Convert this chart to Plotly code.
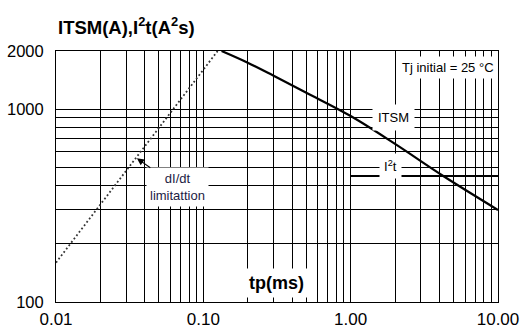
import plotly.graph_objects as go
import math

# ---- data ----
itsm_t = [0.133, 0.2, 0.3, 0.5, 1.0, 2.0, 4.25, 10.0]
itsm_a = [2000, 1740, 1488, 1215, 920, 660, 450, 300]

i2t_t = [1.0, 10.0]
i2t_v = [450, 450]

didt_t = [0.01, 0.125]
didt_a = [160, 2000]

x_grid = [0.01, 0.02, 0.03, 0.04, 0.05, 0.06, 0.07, 0.08, 0.09,
          0.1, 0.2, 0.3, 0.4, 0.5, 0.6, 0.7, 0.8, 0.9,
          1, 2, 3, 4, 5, 6, 7, 8, 9, 10]
x_labels = {0.01: "0.01", 0.1: "0.10", 1: "1.00", 10: "10.00"}
y_grid = [100, 200, 300, 400, 500, 600, 700, 800, 900, 1000, 2000]
y_labels = {100: "100", 1000: "1000", 2000: "2000"}

FONT = "Liberation Sans, Arial, sans-serif"

fig = go.Figure()
fig.add_trace(go.Scatter(x=didt_t, y=didt_a, mode="lines",
                         line=dict(color="#333333", width=1.8, dash="1.8px,2.4px"),
                         hoverinfo="skip"))
fig.add_trace(go.Scatter(x=itsm_t, y=itsm_a, mode="lines",
                         line=dict(color="black", width=2.2, shape="spline", smoothing=1.0),
                         hoverinfo="skip"))
fig.add_trace(go.Scatter(x=i2t_t, y=i2t_v, mode="lines",
                         line=dict(color="black", width=2.2), hoverinfo="skip"))

lg = math.log10
ann = [
    dict(x=lg(1.95), y=lg(900), text="ITSM", showarrow=False,
         font=dict(size=13), bgcolor="white", borderpad=5),
    dict(x=lg(1.85), y=lg(505), text="I<sup>2</sup>t", showarrow=False,
         font=dict(size=13), bgcolor="white", borderpad=4),
    dict(x=1, y=lg(1650), xref="paper", xanchor="right", text="Tj initial = 25 °C",
         showarrow=False, font=dict(size=13), bgcolor="white", borderpad=3),
    dict(x=lg(0.0354), y=lg(556), ax=41, ay=29, text="dI/dt<br>limitattion",
         showarrow=True, arrowhead=2, arrowsize=1.3, arrowwidth=1.1,
         arrowcolor="black", font=dict(size=13, color="#1c1c44"),
         bgcolor="white", borderpad=3),
    dict(x=lg(0.316), y=lg(125), text="<b>tp(ms)</b>", showarrow=False,
         font=dict(size=18), bgcolor="white", borderpad=4),
    dict(x=0, y=1, xref="paper", yref="paper", xanchor="left", yanchor="bottom",
         yshift=11, text="<b>ITSM(A),I<sup>2</sup>t(A<sup>2</sup>s)</b>",
         showarrow=False, font=dict(size=18.5)),
]

fig.update_layout(
    width=526, height=329,
    margin=dict(l=56, r=28, t=51, b=27, autoexpand=False),
    paper_bgcolor="white", plot_bgcolor="white",
    showlegend=False,
    font=dict(family=FONT, color="black"),
    annotations=ann,
    xaxis=dict(type="log", range=[-2, 1], tickvals=x_grid,
               ticktext=[x_labels.get(v, "") for v in x_grid],
               showgrid=True, gridcolor="black", gridwidth=1,
               showline=True, linecolor="black", linewidth=1, mirror=True,
               ticks="", tickfont=dict(size=17), ticklabelstandoff=2,
               zeroline=False, automargin=False),
    yaxis=dict(type="log", range=[2, lg(2000)], tickvals=y_grid,
               ticktext=[y_labels.get(v, "") for v in y_grid],
               showgrid=True, gridcolor="black", gridwidth=1,
               showline=True, linecolor="black", linewidth=1, mirror=True,
               ticks="", tickfont=dict(size=16.5), ticklabelstandoff=8,
               zeroline=False, automargin=False),
)

fig.write_html("out.html", config={"displayModeBar": False},
               post_script="document.body.style.margin='0';")
